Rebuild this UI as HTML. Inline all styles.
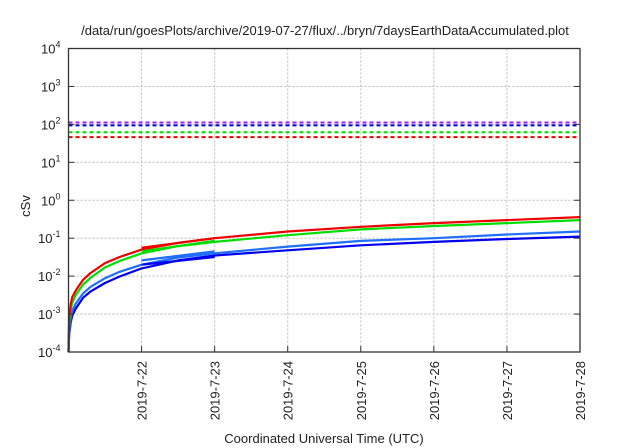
<!DOCTYPE html>
<html><head><meta charset="utf-8"><style>
body{margin:0;background:#fff;}
svg{display:block;font-family:"Liberation Sans",sans-serif;}
</style></head><body>
<svg id="chart" width="640" height="448" viewBox="0 0 640 448" xmlns="http://www.w3.org/2000/svg">
<text x="325" y="35" font-size="13" text-anchor="middle" fill="#222">/data/run/goesPlots/archive/2019-07-27/flux/../bryn/7daysEarthDataAccumulated.plot</text>
<g id="grid"></g>
<g id="series"></g>
<rect x="68.5" y="48.5" width="511.5" height="303.5" fill="none" stroke="#333" stroke-width="1.3"/>
<g id="axes"></g>
<text x="0" y="0" font-size="13" text-anchor="middle" fill="#222" transform="translate(30,206) rotate(-90)">cSv</text>
<text x="324" y="443" font-size="13" text-anchor="middle" fill="#222">Coordinated Universal Time (UTC)</text>
</svg>
<script>
const xTickLabels=["2019-7-22","2019-7-23","2019-7-24","2019-7-25","2019-7-26","2019-7-27","2019-7-28"];
const xTickDays=[1,2,3,4,5,6,7];
const yTickExps=[-4,-3,-2,-1,0,1,2,3,4];
const thresholdValues=[112,94,62,46];
const thresholdColors=["#a020f0","#0000e0","#00dd00","#ee0000"];
const days=[0,0.01,0.03,0.05,0.1,0.2,0.3,0.5,0.7,1,1.5,2,3,4,5,6,7];
const redValues=[0.0001,0.0008,0.0018,0.0028,0.0042,0.008,0.012,0.022,0.032,0.05,0.075,0.1,0.15,0.2,0.25,0.3,0.36];
const greenValues=[0.0001,0.0006,0.0013,0.002,0.0032,0.006,0.009,0.017,0.025,0.04,0.062,0.08,0.12,0.17,0.21,0.25,0.3];
const lightBlueValues=[0.0001,0.0004,0.0008,0.0012,0.0019,0.0035,0.0052,0.0088,0.013,0.02,0.031,0.04,0.06,0.085,0.1,0.125,0.15];
const darkBlueValues=[0.0001,0.0003,0.0006,0.0009,0.0014,0.0027,0.0039,0.0066,0.0098,0.016,0.026,0.035,0.048,0.065,0.08,0.095,0.11];
const segDays=[1,2];
const redSeg=[0.056,0.1];
const greenSeg=[0.045,0.085];
const lightBlueSeg=[0.026,0.045];
const darkBlueSeg=[0.02,0.032];
const L=68.5,R=580,T=48.5,B=352;
const xs=d=>L+(R-L)*d/7;
const ys=v=>B-(B-T)*(Math.log10(v)+4)/8;
const NS="http://www.w3.org/2000/svg";
function mk(tag,parent,attrs){const e=document.createElementNS(NS,tag);for(const k in attrs)e.setAttribute(k,attrs[k]);parent.appendChild(e);return e;}
const grid=document.getElementById('grid'),axes=document.getElementById('axes'),ser=document.getElementById('series');
yTickExps.forEach(e=>{const y=ys(Math.pow(10,e));
 if(e>-4&&e<4){const g=mk('line',grid,{x1:L,x2:R,y1:y,y2:y,stroke:'#bbb','stroke-dasharray':'2,2','stroke-width':1});
 
 }
 const t1=mk('line',axes,{x1:L,x2:L+6,y1:y,y2:y,stroke:'#333'});
 
 
 const t2=mk('line',axes,{x1:R-6,x2:R,y1:y,y2:y,stroke:'#333'});
 
 
 const tx=mk('text',axes,{x:L-8,y:y+5,'font-size':13,'text-anchor':'end',fill:'#222'});
 tx.innerHTML='10<tspan dy="-6" font-size="9">'+e+'</tspan>';
 
 
});
xTickDays.forEach((d,i)=>{const x=xs(d);
 if(d<7){const g=mk('line',grid,{x1:x,x2:x,y1:T,y2:B,stroke:'#bbb','stroke-dasharray':'2,2','stroke-width':1});
 
 }
 const t=mk('line',axes,{x1:x,x2:x,y1:B-6,y2:B,stroke:'#333'});
 
 
 const tx=mk('text',axes,{x:0,y:0,'font-size':13,'text-anchor':'end',fill:'#222',transform:`translate(${x+5},${B+9}) rotate(-90)`});
 tx.textContent=xTickLabels[i];
 
 
});
thresholdValues.forEach((v,i)=>{const y=ys(v);
 const l=mk('line',ser,{x1:L,x2:R,y1:y,y2:y,stroke:thresholdColors[i],'stroke-width':2,'stroke-dasharray':'4,3'});
 
 
});
function path(dx,vals,color,name){
 const d=vals.map((v,i)=>(i?'L':'M')+xs(dx[i]).toFixed(1)+','+ys(v).toFixed(1)).join(' ');
 const p=mk('path',ser,{d:d,fill:'none',stroke:color,'stroke-width':2.2,'stroke-linejoin':'round'});
 
 
}
path(days,darkBlueValues,'#0000ee','dark-blue-series');
path(days,lightBlueValues,'#1e6fff','light-blue-series');
path(days,greenValues,'#00dd00','green-series');
path(days,redValues,'#ee0000','red-series');
path(segDays,darkBlueSeg,'#0000ee','dark-blue-segment');
path(segDays,lightBlueSeg,'#1e6fff','light-blue-segment');
path(segDays,greenSeg,'#00dd00','green-segment');
path(segDays,redSeg,'#ee0000','red-segment');
</script>
</body></html>
